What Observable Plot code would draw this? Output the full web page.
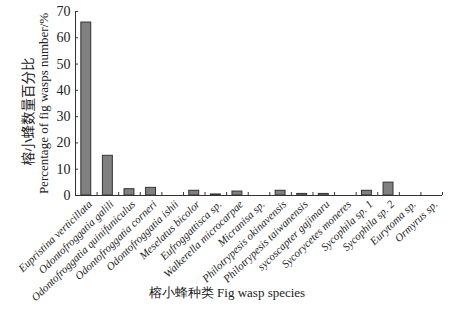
<!DOCTYPE html>
<html>
<head>
<meta charset="utf-8">
<script src="https://cdn.jsdelivr.net/npm/d3@7"></script>
<script src="https://cdn.jsdelivr.net/npm/@observablehq/plot@0.6"></script>
<style>
  html, body { margin: 0; padding: 0; background: #fff; }
  #chart svg { display: block; }
</style>
</head>
<body>
<div id="chart"></div>
<script>
const species = [
  "Eupristina verticillata",
  "Odontofroggatia galili",
  "Odontofroggatia quinifuniculus",
  "Odontofroggatia corneri",
  "Odontofroggatia ishii",
  "Meselatus bicolor",
  "Eufroggattisca sp.",
  "Walkerella microcarpae",
  "Micranisa sp.",
  "Philotrypesis okinavensis",
  "Philotrypesis taiwanensis",
  "sycoscapter gajimaru",
  "Sycorycetes moneres",
  "Sycophila sp. 1",
  "Sycophila sp. 2",
  "Eurytoma sp.",
  "Ormyrus sp."
];
const percentages = [65.8, 15.1, 2.4, 2.9, 0, 1.8, 0.4, 1.5, 0, 1.8, 0.6, 0.6, 0, 1.8, 4.9, 0, 0];
const yTicks = [0, 10, 20, 30, 40, 50, 60, 70];
const yTitleZh = "榕小蜂数量百分比";
const yTitleEn = "Percentage of fig wasps number/%";
const xTitle = "榕小蜂种类 Fig wasp species";

const data = species.map((s, i) => ({species: s, i, value: percentages[i]}));
const boundaries = d3.range(species.length + 1);
const font = "'Liberation Serif', 'Times New Roman', serif";

const chart = Plot.plot({
  width: 467,
  height: 309,
  marginLeft: 75,
  marginRight: 25,
  marginTop: 11,
  marginBottom: 114,
  style: {fontFamily: font, background: "#fff", color: "#222"},
  x: {domain: [0, species.length], axis: null},
  y: {domain: [0, 70], axis: null},
  marks: [
    Plot.rectY(data, {
      x1: d => d.i + 0.27,
      x2: d => d.i + 0.73,
      y: "value",
      fill: "#808080",
      stroke: "#333",
      strokeWidth: 1
    }),
    Plot.ruleY([0], {stroke: "#333", strokeWidth: 1}),
    Plot.ruleX([0], {stroke: "#333", strokeWidth: 1}),
    Plot.axisX({ticks: boundaries, tickSize: 3, dy: -3, tickFormat: () => "", label: null, stroke: "#333"}),
    Plot.axisY({ticks: yTicks, tickSize: 3, dx: 3, tickFormat: () => "", label: null, stroke: "#333"}),
    Plot.axisY({ticks: yTicks, tickSize: 0, tickPadding: 5, fontSize: 14, label: null, fill: "#222"}),
    Plot.text(data, {
      x: d => d.i + 0.5,
      y: 0,
      text: "species",
      rotate: -44,
      textAnchor: "end",
      dx: 4,
      dy: 7,
      fontSize: 11,
      fontStyle: "italic",
      fill: "#222"
    }),
    Plot.text([yTitleZh], {
      frameAnchor: "left",
      textAnchor: "middle",
      rotate: -90,
      dx: -47,
      dy: 8,
      text: d => d,
      fontSize: 13.5,
      fontFamily: "'Noto Sans CJK SC', serif",
      fill: "#222"
    }),
    Plot.text([yTitleEn], {
      frameAnchor: "left",
      textAnchor: "middle",
      rotate: -90,
      dx: -32,
      text: d => d,
      fontSize: 13,
      fill: "#222"
    }),
    Plot.text([xTitle], {
      frameAnchor: "bottom",
      dx: -32,
      dy: 101,
      text: d => d,
      fontSize: 13,
      fill: "#222"
    })
  ]
});
document.getElementById("chart").appendChild(chart);
</script>
</body>
</html>
